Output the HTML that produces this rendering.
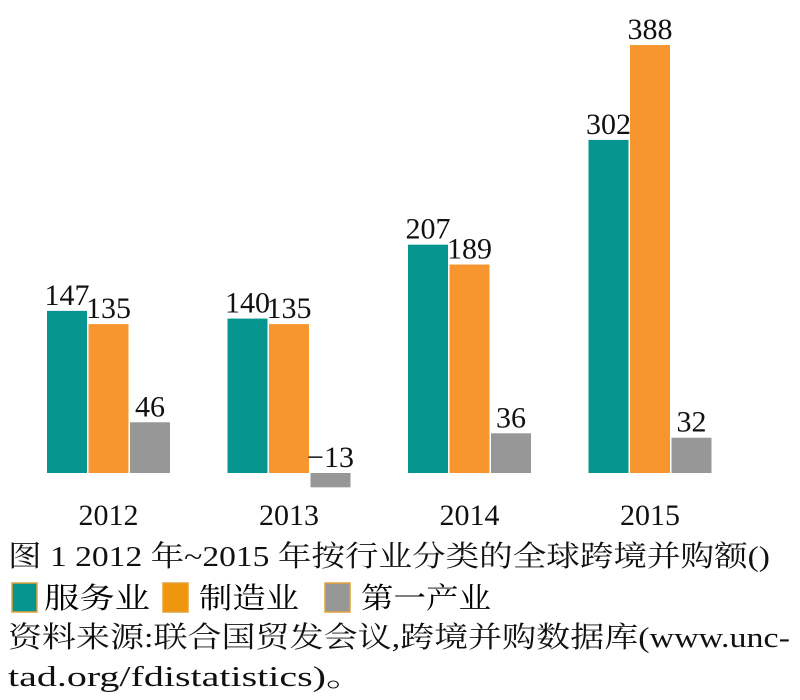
<!DOCTYPE html>
<html><head><meta charset="utf-8"><style>
html,body{margin:0;padding:0;background:#fff;}
svg{display:block;font-family:"Liberation Serif","Noto Serif CJK SC",serif;}
</style></head><body>
<svg width="800" height="700" viewBox="0 0 800 700">
<g id="plot"></g>
<text x="8" y="566" font-size="29" fill="#111" textLength="762" lengthAdjust="spacingAndGlyphs">图 1  2012 年~2015 年按行业分类的全球跨境并购额()</text>
<g>
<g><rect x="12" y="583" width="25" height="29" fill="#07958f" stroke="#e3a23a" stroke-width="1.5"/><text x="44" y="608" font-size="29" textLength="106" lengthAdjust="spacingAndGlyphs">服务业</text></g>
<g><rect x="163" y="583" width="25" height="29" fill="#f0960e" stroke="#e3a23a" stroke-width="1.5"/><text x="199" y="608" font-size="29" textLength="100" lengthAdjust="spacingAndGlyphs">制造业</text></g>
<g><rect x="325" y="583" width="25" height="29" fill="#979797" stroke="#e3a23a" stroke-width="1.5"/><text x="361" y="608" font-size="29" textLength="130" lengthAdjust="spacingAndGlyphs">第一产业</text></g>
</g>
<text x="8" y="647" font-size="29" fill="#111" textLength="782" lengthAdjust="spacingAndGlyphs">资料来源:联合国贸发会议,跨境并购数据库(www.unc-</text>
<text x="8" y="686" font-size="29" fill="#111" textLength="358" lengthAdjust="spacingAndGlyphs">tad.org/fdistatistics)。</text>
</svg>
<script>
const categories = ["2012","2013","2014","2015"];
const services = [147,140,207,302];
const manufacturing = [135,135,189,388];
const primary = [46,-13,36,32];
const seriesNames = ["services","manufacturing","primary"];
const colors = ["#07958f","#f7962f","#979797"];
const baseY = 473, scale = 1.103;
const y = v => baseY - v*scale;
const groupX = i => 47 + i*180.5;
const barW = 40, step = 41.5;
const g = document.getElementById('plot');
const NS = "http://www.w3.org/2000/svg";
[services, manufacturing, primary].forEach((arr, s) => {
  arr.forEach((v, i) => {
    const x = groupX(i) + s*step;
    const r = document.createElementNS(NS,'rect');
    r.setAttribute('x', x);
    r.setAttribute('y', Math.min(y(v), baseY));
    r.setAttribute('width', barW);
    r.setAttribute('height', Math.abs(v*scale));
    r.setAttribute('fill', colors[s]);
    
    
    g.appendChild(r);
    const t = document.createElementNS(NS,'text');
    t.setAttribute('x', x + barW/2);
    t.setAttribute('y', (v >= 0 ? y(v) : baseY) - 6);
    t.setAttribute('font-size', '30');
    t.setAttribute('text-anchor', 'middle');
    t.setAttribute('fill', '#111');
    t.textContent = v < 0 ? '\u2212' + Math.abs(v) : String(v);
    
    
    g.appendChild(t);
  });
});
categories.forEach((c, i) => {
  const t = document.createElementNS(NS,'text');
  t.setAttribute('x', groupX(i) + step + barW/2);
  t.setAttribute('y', 525);
  t.setAttribute('font-size', '30');
  t.setAttribute('text-anchor', 'middle');
  t.setAttribute('fill', '#111');
  t.textContent = c;
  
  
  g.appendChild(t);
});
</script>
</body></html>
